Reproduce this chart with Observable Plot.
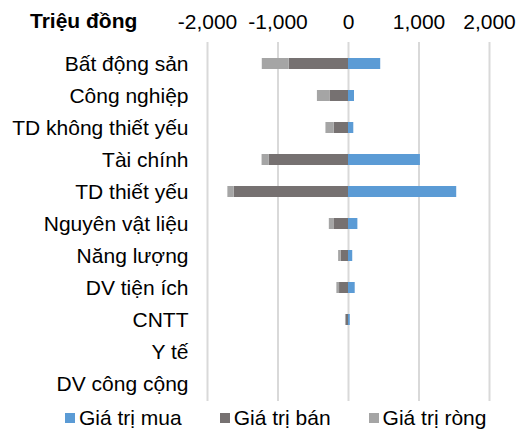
<!DOCTYPE html>
<html><head><meta charset="utf-8">
<script src="https://cdn.jsdelivr.net/npm/d3@7"></script>
<script src="https://cdn.jsdelivr.net/npm/@observablehq/plot@0.6"></script>
<style>
body{margin:0;background:#fff;font-family:"Liberation Sans",Arial,sans-serif;}
#wrap{position:relative;width:517px;height:429px;overflow:hidden;}
#chart{position:absolute;left:0;top:0;}
#title{position:absolute;left:30px;top:9px;font-size:21px;line-height:24px;font-weight:bold;color:#000;white-space:nowrap;}
#legend{position:absolute;left:65px;top:406px;font-size:21px;line-height:24px;color:#000;white-space:nowrap;}
.item{display:inline-block;margin-right:38px;}
.sw{display:inline-block;width:10px;height:10px;margin-right:4px;position:relative;top:-2px;}
</style></head><body>
<div id="wrap"><div id="chart"></div><div id="title">Triệu đồng</div><div id="legend"></div></div>
<script>
const categories = ["Bất động sản","Công nghiệp","TD không thiết yếu","Tài chính","TD thiết yếu","Nguyên vật liệu","Năng lượng","DV tiện ích","CNTT","Y tế","DV công cộng"];
const buyValues  = [457, 85, 75, 1020, 1535, 133, 60, 95, 25, 0, 0];
const sellValues = [-840, -263, -202, -1123, -1623, -207, -105, -127, -35, 0, 0];
const netValues  = [-383, -178, -118, -103, -88, -65, -35, -38, -8, 0, 0];
const seriesNames = ["Giá trị mua","Giá trị bán","Giá trị ròng"];
const seriesColors = ["#5B9BD5","#767171","#A5A5A5"];
const xTicks = [-2000, -1000, 0, 1000, 2000];

const data = categories.flatMap((c, i) => [
  {cat: c, series: seriesNames[0], value: buyValues[i]},
  {cat: c, series: seriesNames[1], value: sellValues[i]},
  {cat: c, series: seriesNames[2], value: netValues[i]}
]);

const plot = Plot.plot({
  width: 517, height: 403,
  marginTop: 47, marginBottom: 3, marginLeft: 207, marginRight: 28,
  style: {fontFamily: "Liberation Sans, Arial, sans-serif", fontSize: "21px", color: "#000", background: "#fff"},
  x: {domain: [-2000, 2000], axis: null, label: null},
  y: {domain: categories, paddingInner: 0.67, paddingOuter: 0.335, axis: null, label: null},
  color: {domain: seriesNames, range: seriesColors},
  marks: [
    Plot.gridX(xTicks, {stroke: "#d9d9d9", strokeOpacity: 1, strokeWidth: 2, insetTop: -5, insetBottom: -1}),
    Plot.barX(data, {y: "cat", x: "value", fill: "series"}),
    Plot.axisX(xTicks, {anchor: "top", label: null, tickSize: 0, tickPadding: 19, tickFormat: d => d.toLocaleString("en-US"), fontSize: 21}),
    Plot.axisY({label: null, tickSize: 0, tickPadding: 19, fontSize: 21})
  ]
});
document.getElementById("chart").appendChild(plot);

const legend = document.getElementById("legend");
seriesNames.forEach((name, i) => {
  const item = document.createElement("span");
  item.className = "item";
  const sw = document.createElement("span");
  sw.className = "sw";
  sw.style.background = seriesColors[i];
  item.appendChild(sw);
  item.appendChild(document.createTextNode(name));
  legend.appendChild(item);
});
</script>
</body></html>
